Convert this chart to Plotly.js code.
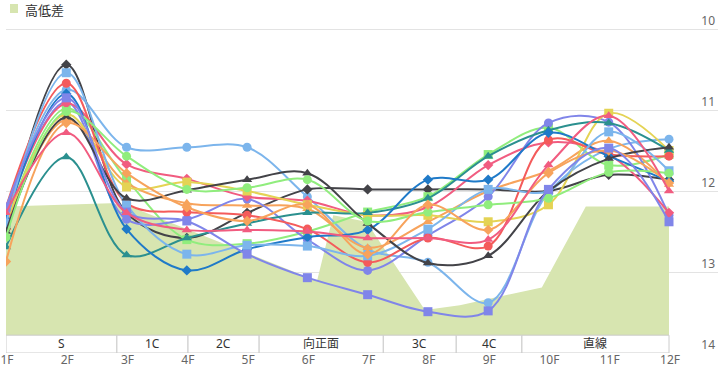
<!DOCTYPE html>
<html>
<head>
<meta charset="utf-8">
<script src="https://cdn.plot.ly/plotly-3.0.1.min.js"></script>
<style>html,body{margin:0;padding:0;background:#fff;}#chart{width:722px;height:368px;}</style>
</head>
<body>
<div id="chart"></div>
<script>
// Categories (furlong markers)
var furlongs = ["1F","2F","3F","4F","5F","6F","7F","8F","9F","10F","11F","12F"];

// Course sections (name, start and end position in furlong index units)
var sectionNames = ["S","1C","2C","向正面","3C","4C","直線"];
var sectionStart = [0, 1.84, 3.02, 4.20, 6.26, 7.47, 8.56];
var sectionEnd   = [1.84, 3.02, 4.20, 6.26, 7.47, 8.56, 11];

// Elevation profile (高低差): position in furlong index units, value
var elevPos = [0, 1.73, 2.06, 5.16, 5.43, 5.98, 6.95, 7.53, 8.89, 9.62, 11];
var elevVal = [12.19, 12.15, 12.19, 13.11, 12.30, 12.38, 13.47, 13.41, 13.19, 12.19, 12.19];
var elevBase = 14;

// Lap-time series
var s00 = [12.30, 10.75, 11.46, 11.46, 11.46, 12.07, 12.72, 12.88, 13.38, 12.02, 11.48, 11.36];
var s01 = [12.47, 10.44, 12.27, 12.58, 12.27, 11.98, 11.98, 11.98, 11.98, 12.00, 11.80, 11.86];
var s02 = [12.40, 10.98, 11.86, 12.60, 12.65, 12.50, 12.26, 12.07, 11.55, 11.22, 11.68, 11.55];
var s03 = [12.45, 11.12, 11.90, 12.15, 12.18, 12.22, 12.70, 12.38, 12.00, 11.75, 11.38, 11.92];
var s04 = [12.25, 10.90, 12.35, 12.35, 12.10, 12.60, 12.98, 12.55, 12.07, 11.16, 11.15, 12.30];
var s05 = [12.30, 10.92, 11.67, 11.85, 12.07, 12.12, 12.30, 12.20, 11.68, 11.40, 11.55, 12.27];
var s06 = [12.40, 11.05, 11.95, 11.89, 12.00, 12.17, 12.30, 12.30, 12.38, 12.17, 11.04, 11.50];
var s07 = [12.69, 11.58, 12.79, 12.58, 12.40, 12.27, 12.27, 12.09, 11.57, 11.25, 11.16, 11.50];
var s08 = [12.20, 10.67, 12.15, 12.26, 12.30, 12.47, 12.88, 12.58, 12.68, 11.37, 11.55, 11.57];
var s09 = [12.35, 10.80, 12.47, 12.98, 12.72, 12.57, 12.48, 11.86, 11.86, 11.28, 11.57, 11.88];
var s10 = [12.40, 10.54, 12.17, 12.78, 12.67, 12.68, 12.80, 12.47, 11.98, 12.00, 11.27, 11.75];
var s11 = [12.50, 11.09, 12.09, 11.99, 11.86, 11.78, 12.40, 12.89, 12.80, 12.00, 11.60, 11.46];
var s12 = [12.57, 11.02, 11.57, 11.98, 11.96, 11.86, 12.37, 12.26, 12.17, 12.09, 11.77, 11.78];
var s13 = [12.87, 11.16, 11.78, 12.20, 12.37, 12.17, 12.78, 12.17, 12.48, 11.78, 11.50, 11.90];
var s14 = [12.20, 10.85, 12.26, 12.37, 12.78, 13.07, 13.28, 13.49, 13.48, 11.98, 11.47, 12.38];
var s15 = [12.27, 11.28, 12.27, 12.48, 12.48, 12.50, 12.58, 12.58, 12.60, 11.68, 11.07, 12.00];

var seriesList = [s00,s01,s02,s03,s04,s05,s06,s07,s08,s09,s10,s11,s12,s13,s14,s15];
var palette = ["#7cb5ec","#434348","#90ed7d","#f7a35c","#8085e9","#f15c80","#e4d354","#2b908f","#f45b5b","#1f7ac8"];
var symbols = ["circle","diamond","square","triangle-up"];

var xMax = 11 * 712 / 663;
var yTop = 14 - 353 / 81;
var idx = furlongs.map(function (f, i) { return i; });

var traces = [];
traces.push({
  x: [elevPos[0], elevPos[elevPos.length - 1]], y: [elevBase, elevBase],
  type: "scatter", mode: "lines", line: {width: 0}, hoverinfo: "skip", showlegend: false
});
traces.push({
  x: elevPos, y: elevVal,
  type: "scatter", mode: "lines", fill: "tonexty",
  fillcolor: "#d7e5b0", line: {width: 0, color: "#d7e5b0"},
  hoverinfo: "skip", showlegend: false
});
seriesList.forEach(function (s, i) {
  var sym = symbols[i % 4];
  traces.push({
    x: idx, y: s, type: "scatter", mode: "lines+markers",
    line: {color: palette[i % 10], width: 2, shape: "spline", smoothing: 1},
    marker: {color: palette[i % 10], symbol: sym, size: sym === "diamond" ? 8 : 9},
    showlegend: false
  });
});

var shapes = [];
var annotations = [];
sectionNames.forEach(function (n, i) {
  shapes.push({type: "rect", xref: "x", yref: "y", x0: sectionStart[i], x1: sectionEnd[i],
    y0: 13.78, y1: 14, fillcolor: "#ffffff", line: {color: "#cccccc", width: 1}, layer: "above"});
  annotations.push({xref: "x", yref: "y", x: (sectionStart[i] + sectionEnd[i]) / 2, y: 13.885,
    text: n, showarrow: false, borderpad: 0, font: {size: 12, color: "#333333"}});
});
// legend
shapes.push({type: "rect", xref: "paper", yref: "paper", x0: (10-6)/712, x1: (18-6)/712,
  y0: (353-13)/353, y1: (353-4)/353, fillcolor: "#d7e5b0", line: {width: 0}});
annotations.push({xref: "paper", yref: "paper", x: (23-6)/712, y: (353-10)/353, xanchor: "left",
  yanchor: "middle", text: "高低差", showarrow: false, font: {size: 13, color: "#333333"}});

var layout = {
  width: 722, height: 368,
  margin: {l: 6, r: 4, t: 0, b: 15},
  paper_bgcolor: "#ffffff", plot_bgcolor: "#ffffff",
  font: {family: "Noto Sans, Noto Sans CJK JP, sans-serif", size: 12, color: "#666666"},
  xaxis: {type: "linear", range: [0, xMax], tickvals: idx, ticktext: furlongs,
    showgrid: false, zeroline: false, showline: false, ticks: "", automargin: false,
    ticklabelstandoff: -2, ticklabelshift: 1,
    tickfont: {size: 12, color: "#666666"}},
  yaxis: {range: [14, yTop], tick0: 10, dtick: 1, side: "right", ticklabelposition: "inside top",
    gridcolor: "#e3e3e3", zeroline: false, showline: false, ticks: "", automargin: false,
    tickfont: {size: 12, color: "#666666"}},
  shapes: shapes, annotations: annotations, showlegend: false
};
Plotly.newPlot("chart", traces, layout, {displayModeBar: false, staticPlot: true});
</script>
</body>
</html>
